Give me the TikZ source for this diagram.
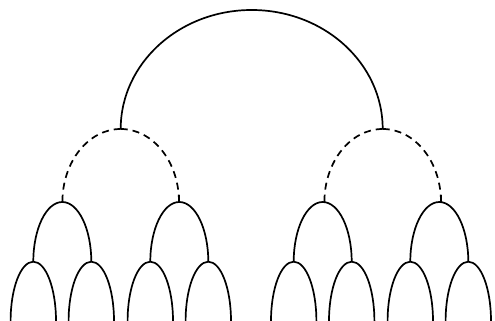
\documentclass[tikz,border=0pt]{standalone}

\begin{document}
\begin{tikzpicture}[x=1pt, y=1pt, line width=1.7pt]
  \useasboundingbox (0,0) rectangle (495,321);

  \coordinate (L) at (120.7, 192);
  \coordinate (R) at (382.7, 192);

  % top arch
  \draw (L) arc[start angle=180, end angle=0, x radius=131pt, y radius=119pt];

  % dashed arches, drawn from the top down
  \foreach \c in {120.7, 382.7} {
    \draw[dash pattern=on 7pt off 5pt] (\c, 192) arc[start angle=90, end angle=180, x radius=58.3pt, y radius=73pt];
    \draw[dash pattern=on 7pt off 5pt] (\c, 192) arc[start angle=90, end angle=0, x radius=58.3pt, y radius=73pt];
    \draw (\c-58.3, 119) -- (\c-58.3, 126);
    \draw (\c+58.3, 119) -- (\c+58.3, 126);
  }

  % lower arches
  \foreach \c in {62.3, 179.3, 322.7, 439.3} {
    \draw (\c-29, 59.3) arc[start angle=180, end angle=0, x radius=29pt, y radius=59.7pt];
    \foreach \s in {-29, 29}
      \draw (\c+\s-22.7, 0) arc[start angle=180, end angle=0, x radius=22.7pt, y radius=59.3pt];
  }
\end{tikzpicture}
\end{document}
